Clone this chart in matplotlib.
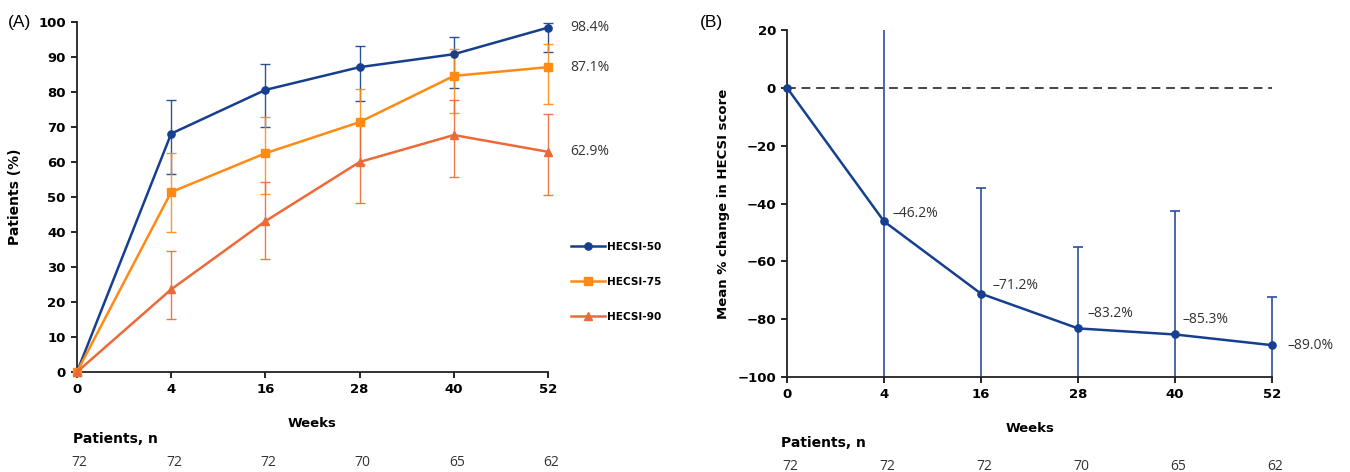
import matplotlib

matplotlib.use("Agg")
import matplotlib.pyplot as plt
import matplotlib.transforms as mtransforms
from matplotlib.patches import Rectangle

# --- data ------------------------------------------------------------------
weeks = ["0", "4", "16", "28", "40", "52"]
patients_n = [72, 72, 72, 70, 65, 62]

# (A) responders, % with 95% CI bounds
hecsi50 = [0, 68.1, 80.6, 87.1, 90.8, 98.4]
hecsi50_lo = [0, 56.5, 70.1, 77.3, 81.2, 91.4]
hecsi50_hi = [0, 77.7, 88.0, 93.2, 95.8, 99.8]
hecsi75 = [0, 51.4, 62.5, 71.4, 84.6, 87.1]
hecsi75_lo = [0, 40.1, 50.8, 59.4, 74.1, 76.7]
hecsi75_hi = [0, 62.7, 72.8, 80.9, 92.4, 93.6]
hecsi90 = [0, 23.6, 43.1, 60.0, 67.7, 62.9]
hecsi90_lo = [0, 15.1, 32.2, 48.2, 55.8, 50.6]
hecsi90_hi = [0, 34.6, 54.4, 71.5, 77.7, 73.7]
end_labels = ["98.4%", "87.1%", "62.9%"]

# (B) mean % change in HECSI score, upper end of the (symmetric) SD bar
pct_change = [0, -46.2, -71.2, -83.2, -85.3, -89.0]
pct_upper = [0, 25.0, -34.8, -55.0, -42.5, -72.2]
pct_labels = ["\u201346.2%", "\u201371.2%", "\u201383.2%", "\u201385.3%", "\u201389.0%"]

BLUE = "#173f8f"
ORANGE = "#ff8a14"
RED = "#ec6a37"
TICK_FONT = "DejaVu Sans"
NUM_FONT = "Open Sans"

fig = plt.figure(figsize=(13.5, 4.72), dpi=100)
axA = fig.add_axes([0.057, 0.2119, 0.349, 0.7415])
axB = fig.add_axes([0.583, 0.2013, 0.3593, 0.7351])
x = list(range(len(weeks)))


def style_axes(ax):
    for s in ("top", "right"):
        ax.spines[s].set_visible(False)
    for s in ("left", "bottom"):
        ax.spines[s].set_linewidth(1.3)
        ax.spines[s].set_color("#222222")
    ax.tick_params(direction="out", length=4, width=1.2, labelsize=9.5, pad=4)
    for lbl in ax.get_xticklabels() + ax.get_yticklabels():
        lbl.set_fontweight("bold")
        lbl.set_family(TICK_FONT)
    ax.set_xlim(0, len(weeks) - 1)
    ax.set_xticks(x)
    ax.set_xticklabels(weeks, fontweight="bold", family=TICK_FONT)


def clip_vertically(ax, container):
    # clip error bars at the y limits only, so the bar on the last tick stays whole
    rect = Rectangle((-0.05, 0), 1.1, 1, transform=ax.transAxes,
                     facecolor="none", edgecolor="none")
    for art in container.lines[1] + container.lines[2]:
        art.set_clip_path(rect)


# --- panel A ----------------------------------------------------------------
series = [
    ("HECSI-50", hecsi50, hecsi50_lo, hecsi50_hi, BLUE, "o", 5.2),
    ("HECSI-75", hecsi75, hecsi75_lo, hecsi75_hi, ORANGE, "s", 5.2),
    ("HECSI-90", hecsi90, hecsi90_lo, hecsi90_hi, RED, "^", 5.5),
]
handles = []
for name, vals, lo, hi, col, mk, ms in series:
    err = [[v - l for v, l in zip(vals, lo)], [h - v for v, h in zip(vals, hi)]]
    eb = axA.errorbar(x[1:], vals[1:], yerr=[err[0][1:], err[1][1:]], fmt="none",
                      ecolor=col, elinewidth=1.0, capsize=3.5, capthick=1.0,
                      alpha=0.9, zorder=2)
    clip_vertically(axA, eb)
    (h,) = axA.plot(x, vals, color=col, lw=1.8, marker=mk, ms=ms,
                    clip_on=False, zorder=3, label=name)
    handles.append(h)

for (name, vals, *_), lab in zip(series, end_labels):
    axA.annotate(lab, (x[-1], vals[-1]), xytext=(16, 0),
                 textcoords="offset points", va="center", ha="left",
                 fontsize=10, family=NUM_FONT, color="#333333")

axA.set_ylim(0, 100)
axA.set_yticks(range(0, 101, 10))
style_axes(axA)
axA.set_ylabel("Patients (%)", fontsize=10, fontweight="bold", family=TICK_FONT)
axA.set_xlabel("Weeks", fontsize=9.5, fontweight="bold", family=TICK_FONT)
axA.yaxis.set_label_coords(-0.117, 0.5)
axA.xaxis.set_label_coords(0.5, -0.129)
axA.legend(handles=handles, loc="upper left", bbox_to_anchor=(1.049, 0.371),
           frameon=False, prop={"family": TICK_FONT, "weight": "bold", "size": 7.6},
           handlelength=3.2, handletextpad=0.2, labelspacing=2.35,
           borderpad=0, borderaxespad=0)
fig.text(8 / 1350, 1 - 22 / 472, "(A)", fontsize=12.5, family="Liberation Sans",
         va="center", ha="left")

# --- panel B ----------------------------------------------------------------
sd = [u - m for u, m in zip(pct_upper, pct_change)]
axB.axhline(0, color="#444444", lw=1.4, ls=(0, (4.5, 3)), zorder=1)
eb = axB.errorbar(x[1:], pct_change[1:], yerr=sd[1:], fmt="none", ecolor="#2b4ea3",
                  elinewidth=1.2, capsize=3.5, capthick=1.2, zorder=2)
clip_vertically(axB, eb)
axB.plot(x, pct_change, color=BLUE, lw=1.8, marker="o", ms=5.2, clip_on=False,
         zorder=3)
offsets = [(6, 6), (8, 6), (7, 11), (5, 11), (11, 0)]
for xi, v, lab, off in zip(x[1:], pct_change[1:], pct_labels, offsets):
    axB.annotate(lab, (xi, v), xytext=off, textcoords="offset points",
                 va="center", ha="left", fontsize=10, family=NUM_FONT,
                 color="#333333")
axB.set_ylim(-100, 20)
axB.set_yticks(range(-100, 21, 20))
style_axes(axB)
axB.set_ylabel("Mean % change in HECSI score", fontsize=9.5, fontweight="bold",
               family=TICK_FONT)
axB.set_xlabel("Weeks", fontsize=9.5, fontweight="bold", family=TICK_FONT)
axB.yaxis.set_label_coords(-0.118, 0.5)
axB.xaxis.set_label_coords(0.5, -0.130)
fig.text(700 / 1350, 1 - 22 / 472, "(B)", fontsize=12.5,
         family="Liberation Sans", va="center", ha="left")

# --- patients at risk rows --------------------------------------------------
for ax, y_head, y_num, x_head in ((axA, 439, 462, 73), (axB, 443, 466, 781)):
    fig.text(x_head / 1350, 1 - y_head / 472, "Patients, n", fontsize=10,
             fontweight="bold", family=TICK_FONT, va="center", ha="left")
    trans = mtransforms.blended_transform_factory(ax.transData, fig.transFigure)
    for xi, n in zip(x, patients_n):
        ax.text(xi + 0.03, 1 - y_num / 472, str(n), transform=trans,
                fontsize=10, family=NUM_FONT, color="#333333",
                va="center", ha="center", clip_on=False)

fig.savefig("out.png", dpi=100)
